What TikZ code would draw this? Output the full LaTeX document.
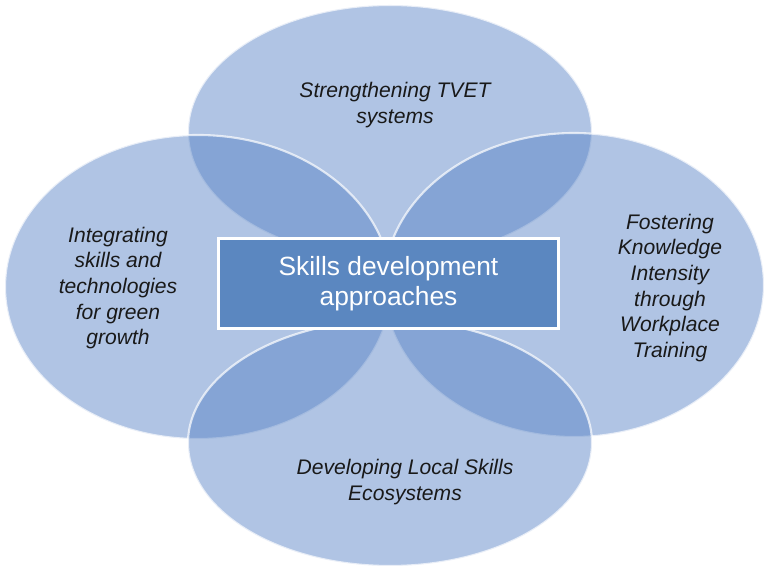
\documentclass[tikz,border=0pt]{standalone}
\usepackage{fontspec}
\setmainfont{Liberation Sans}
\usetikzlibrary{shapes.geometric}

\definecolor{petal}{RGB}{80,125,195}
\definecolor{boxblue}{RGB}{91,135,192}

\tikzset{
  petal/.style={ellipse, inner sep=0pt, fill=petal, fill opacity=0.45,
    draw=white, draw opacity=0.7, line width=1.2pt},
  label/.style={align=center, font=\fontsize{12}{14.6}\selectfont\itshape, text=black!90},
  core/.style={rectangle, fill=boxblue, draw=white, line width=2pt,
    minimum width=6.8cm, minimum height=1.8cm, align=center, text=white,
    font=\fontsize{15}{17}\selectfont}
}

\begin{document}
\begin{tikzpicture}
\useasboundingbox (0,0) rectangle (15.32,11.38);
  \node[petal, minimum width=8.08cm, minimum height=5.08cm] (Top)    at (7.80,8.74) {};
  \node[petal, minimum width=7.72cm, minimum height=6.08cm] (Left)   at (3.96,5.64) {};
  \node[petal, minimum width=7.60cm, minimum height=6.08cm] (Right)  at (11.48,5.68) {};
  \node[petal, minimum width=8.08cm, minimum height=4.92cm] (Bottom) at (7.80,2.52) {};

  \node[label] (TopText)    at (7.90,9.28) {Strengthening TVET\\systems};
  \node[label] (LeftText)   at (2.36,5.62) {Integrating\\skills and\\technologies\\for green\\growth};
  \node[label] (RightText)  at (13.40,5.62) {Fostering\\Knowledge\\Intensity\\through\\Workplace\\Training};
  \node[label] (BottomText) at (8.10,1.74) {Developing Local Skills\\Ecosystems};

  \node[core] (Core) at (7.77,5.71) {Skills development\\approaches};
\end{tikzpicture}
\end{document}
